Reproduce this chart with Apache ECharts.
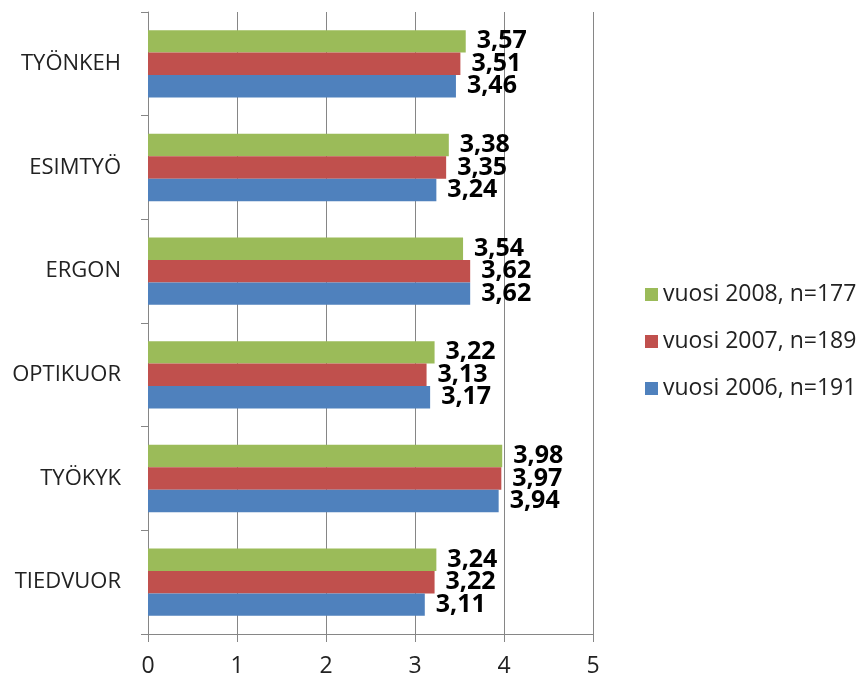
<!DOCTYPE html>
<html>
<head>
<meta charset="utf-8">
<script src="https://cdn.jsdelivr.net/npm/echarts@6/dist/echarts.min.js"></script>
<style>
  html, body { margin: 0; padding: 0; background: #fff; }
  #chart { width: 864px; height: 678px; }
</style>
</head>
<body>
<div id="chart"></div>
<script>
// Categories listed bottom-to-top (category axis grows upward)
const categories = ['TIEDVUOR', 'TYÖKYK', 'OPTIKUOR', 'ERGON', 'ESIMTYÖ', 'TYÖNKEH'];
const values2006 = [3.11, 3.94, 3.17, 3.62, 3.24, 3.46];
const values2007 = [3.22, 3.97, 3.13, 3.62, 3.35, 3.51];
const values2008 = [3.24, 3.98, 3.22, 3.54, 3.38, 3.57];
const seriesNames = ['vuosi 2006, n=191', 'vuosi 2007, n=189', 'vuosi 2008, n=177'];
const xTicks = [0, 1, 2, 3, 4, 5];

const FONT = '"Open Sans", "Liberation Sans", sans-serif';
const colors = ['#4F81BD', '#C0504D', '#9BBB59'];

function makeSeries(name, data, color) {
  return {
    name: name,
    type: 'bar',
    data: data,
    barGap: '0%',
    barCategoryGap: '35%',
    itemStyle: { color: color },
    label: {
      show: true,
      position: 'right',
      distance: 11,
      fontFamily: FONT,
      fontWeight: 'bold',
      fontSize: 25,
      color: '#000',
      formatter: p => p.value.toFixed(2).replace('.', ',')
    }
  };
}

const chart = echarts.init(document.getElementById('chart'));
chart.setOption({
  animation: false,
  grid: { left: 148, right: 271, top: 12, bottom: 43, containLabel: false },
  legend: {
    orient: 'vertical',
    left: 640,
    top: 278,
    itemWidth: 13,
    itemHeight: 13,
    itemGap: 24,
    icon: 'rect',
    data: [seriesNames[2], seriesNames[1], seriesNames[0]],
    textStyle: { fontFamily: FONT, fontSize: 23, color: '#222' }
  },
  xAxis: {
    type: 'value',
    min: xTicks[0],
    max: xTicks[xTicks.length - 1],
    interval: 1,
    axisLine: { show: true, lineStyle: { color: '#868686', width: 1 } },
    axisTick: { show: true, length: 8, lineStyle: { color: '#868686' } },
    axisLabel: { fontFamily: FONT, fontSize: 23, color: '#222', margin: 21 },
    splitLine: { show: true, lineStyle: { color: '#868686', width: 1 } }
  },
  yAxis: {
    type: 'category',
    data: categories,
    axisLine: { show: true, lineStyle: { color: '#868686', width: 1 } },
    axisTick: { show: true, length: 7, lineStyle: { color: '#868686' } },
    axisLabel: { fontFamily: FONT, fontSize: 22, color: '#222', margin: 27 },
    splitLine: { show: false }
  },
  // Series order places 2008 at the top of each group, 2006 at the bottom
  series: [
    makeSeries(seriesNames[2], values2008, colors[2]),
    makeSeries(seriesNames[1], values2007, colors[1]),
    makeSeries(seriesNames[0], values2006, colors[0])
  ]
});
</script>
</body>
</html>
